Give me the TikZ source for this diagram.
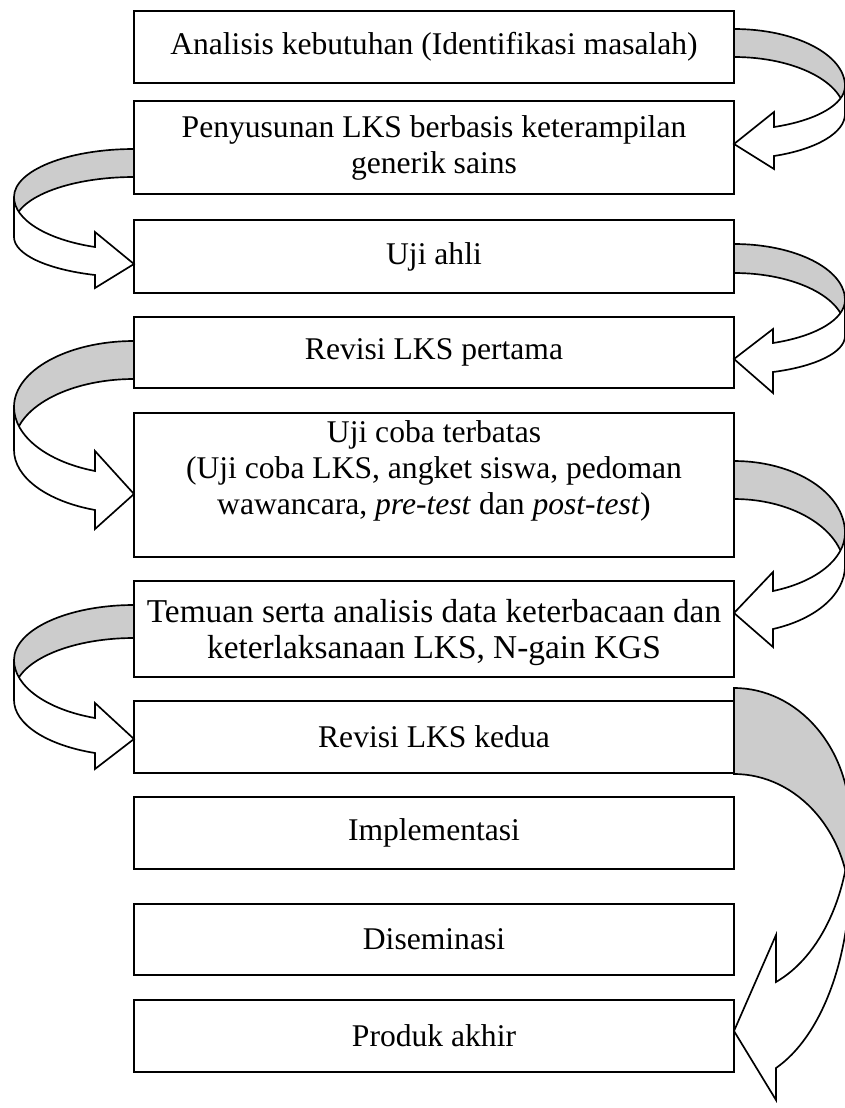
\documentclass[tikz,border=0pt]{standalone}
\usepackage{fontspec}
\setmainfont{Liberation Serif}
\pgfkeys{/ca/.cd,
  R/.store in=\caR, y1/.store in=\caYa, y2/.store in=\caYb,
  yA/.store in=\caYA, yL/.store in=\caYL, J/.store in=\caJ,
  s1/.store in=\caSa, s2/.store in=\caSb,
  h1/.store in=\caHa, h2/.store in=\caHb, t/.store in=\caT}
\newcommand{\curvarrow}[1]{%
  \pgfkeys{/ca/.cd,#1}%
  \pgfmathsetmacro\caRO{\caYA-\caYa}%
  \pgfmathsetmacro\caTk{\caYb-\caYa}%
  \pgfmathsetmacro\caC{sqrt(1-(\caJ/\caR)^2)}%
  \pgfmathsetmacro\caTh{acos(\caJ/\caR)}%
  \pgfmathsetmacro\caRT{(\caSa-\caYA)/\caC}%
  \pgfmathsetmacro\caRB{(\caSb-\caYL)/\caC}%
  \filldraw[cback] (0,\caYa) arc[start angle=-90,end angle=0,x radius=\caR,y radius=\caRO]
     -- ++(0,\caTk) arc[start angle=0,end angle=-90,x radius=\caR,y radius=\caRO] -- cycle;
  \filldraw[cfront] (\caR,\caYA) arc[start angle=0,end angle=\caTh,x radius=\caR,y radius=\caRT]
     -- (\caJ,\caHa) -- (0,\caT) -- (\caJ,\caHb) -- (\caJ,\caSb)
     arc[start angle=\caTh,end angle=0,x radius=\caR,y radius=\caRB] -- cycle;
}
\begin{document}
\begin{tikzpicture}[x=0.75pt,y=-0.75pt,
  box/.style={draw,line width=1.25pt,rectangle,inner sep=0pt,outer sep=0pt,
    minimum width=450pt,align=center,font=\fontsize{23.7}{27}\selectfont},
  txt/.style={inner sep=0pt,align=center,font=\fontsize{23.7}{27}\selectfont},
  cback/.style={draw=black,fill=gray!40,line width=1.25pt,line join=miter},
  cfront/.style={draw=black,fill=white,line width=1.25pt,line join=miter}]
\useasboundingbox (0,0) rectangle (845,1108);
\clip (0,0) rectangle (845,1108);
\node[box,minimum height=54pt]    (b1)  at (434,47)    {Analisis kebutuhan (Identifikasi masalah)};
\node[box,minimum height=69.75pt] (b2)  at (434,147.5) {Penyusunan LKS berbasis keterampilan\\generik sains};
\node[box,minimum height=54.75pt] (b3)  at (434,256.5) {Uji ahli};
\node[box,minimum height=53.25pt] (b4)  at (434,352.5) {Revisi LKS pertama};
\node[box,minimum height=108pt]   (b5)  at (434,485)   {};
\node[txt] (t5) at (434,471) {Uji coba terbatas\\(Uji coba LKS, angket siswa, pedoman\\wawancara, \textit{pre-test} dan \textit{post-test})};
\node[box,minimum height=72pt]    (b6)  at (434,629)   {};
\node[txt,font=\fontsize{25}{27}\selectfont] (t6) at (434,633) {Temuan serta analisis data keterbacaan dan\\keterlaksanaan LKS, N-gain KGS};
\node[box,minimum height=54pt]    (b7)  at (434,737)   {Revisi LKS kedua};
\node[box,minimum height=54pt]    (b8)  at (434,833)   {Implementasi};
\node[box,minimum height=53.25pt] (b9)  at (434,939.5) {Diseminasi};
\node[box,minimum height=54pt]    (b10) at (434,1036)  {Produk akhir};
% right-hand curved arrows
\begin{scope}[shift={(734,0)}]
  \curvarrow{R=111,y1=29,y2=57,yA=86,yL=114,J=40,s1=127,s2=156,h1=112,h2=169,t=144}
  \curvarrow{R=111,y1=244,y2=273,yA=300,yL=336,J=39,s1=343,s2=372,h1=329,h2=393,t=359}
  \curvarrow{R=111,y1=461,y2=499,yA=533,yL=566,J=39,s1=591,s2=629,h1=572,h2=647,t=613}
  \curvarrow{R=116,y1=688,y2=774,yA=822,yL=875,J=42,s1=982,s2=1068,h1=935,h2=1100,t=1031}
\end{scope}
% left-hand curved arrows
\begin{scope}[shift={(134,0)},xscale=-1]
  \curvarrow{R=120,y1=149,y2=177,yA=197,yL=237,J=39,s1=247,s2=275,h1=232,h2=288,t=264}
  \curvarrow{R=120,y1=341,y2=379,yA=407,yL=450,J=39,s1=471,s2=510,h1=451,h2=529,t=494}
  \curvarrow{R=120,y1=605,y2=638,yA=660,yL=700,J=39,s1=718,s2=753,h1=703,h2=769,t=739}
\end{scope}
\end{tikzpicture}
\end{document}
